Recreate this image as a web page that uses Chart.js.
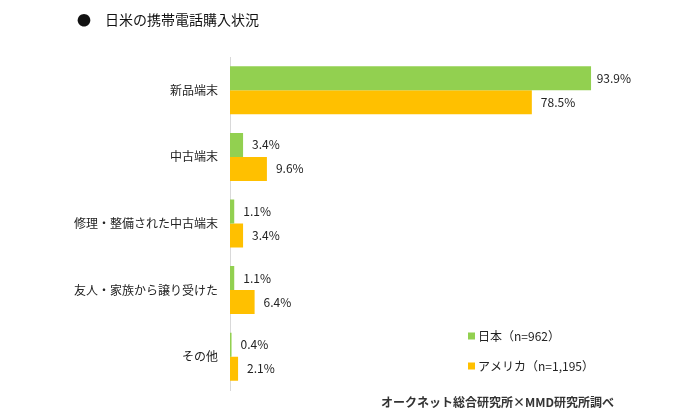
<!DOCTYPE html>
<html>
<head>
<meta charset="utf-8">
<script src="https://cdn.jsdelivr.net/npm/chart.js@4"></script>
<style>
  body { margin: 0; background: #fff; font-family: "Noto Sans CJK JP", sans-serif; }
  #wrap { position: relative; width: 700px; height: 412px; }
  #title { position: absolute; left: 77px; top: 9px; font-size: 14px; color: #111; }
  #title .dot { display: inline-block; width: 28px; }
  #source { position: absolute; left: 381px; top: 393px; font-size: 12px; font-weight: bold; color: #333; }
</style>
</head>
<body>
<div id="wrap">
  <canvas id="chart" width="700" height="412"></canvas>
  <div id="title"><span class="dot">●</span>日米の携帯電話購入状況</div>
  <div id="source">オークネット総合研究所×MMD研究所調べ</div>
</div>
<script>
// Data
const categories = ['新品端末', '中古端末', '修理・整備された中古端末', '友人・家族から譲り受けた', 'その他'];
const japan = [93.9, 3.4, 1.1, 1.1, 0.4];
const usa = [78.5, 9.6, 3.4, 6.4, 2.1];
const seriesLabels = ['日本（n=962）', 'アメリカ（n=1,195）'];

const FONT = '"Noto Sans CJK JP", sans-serif';

// Value labels at bar ends
const valueLabels = {
  id: 'valueLabels',
  afterDatasetsDraw(chart) {
    const ctx = chart.ctx;
    ctx.save();
    ctx.font = '12px ' + FONT;
    ctx.fillStyle = '#222';
    ctx.textBaseline = 'middle';
    chart.data.datasets.forEach((ds, i) => {
      chart.getDatasetMeta(i).data.forEach((bar, j) => {
        const txt = ds.data[j].toFixed(1) + '%';
        const w = ctx.measureText(txt).width;
        const x = Math.min(bar.x + 9, 631 - w);
        ctx.fillText(txt, x, bar.y);
      });
    });
    ctx.restore();
  }
};

// Legend drawn inside the plot
const boxLegend = {
  id: 'boxLegend',
  afterDraw(chart) {
    const ctx = chart.ctx;
    ctx.save();
    ctx.font = '12px ' + FONT;
    ctx.textBaseline = 'middle';
    chart.data.datasets.forEach((ds, i) => {
      const y = 336 + i * 30;
      ctx.fillStyle = ds.backgroundColor;
      ctx.fillRect(468, y - 3.5, 7, 7);
      ctx.fillStyle = '#222';
      ctx.fillText(ds.label, 478, y);
    });
    ctx.restore();
  }
};

new Chart(document.getElementById('chart'), {
  type: 'bar',
  data: {
    labels: categories,
    datasets: [
      { label: seriesLabels[0], data: japan, backgroundColor: '#92d050' },
      { label: seriesLabels[1], data: usa, backgroundColor: '#ffc000' }
    ]
  },
  options: {
    indexAxis: 'y',
    responsive: false,
    animation: false,
    categoryPercentage: 0.72,
    barPercentage: 1,
    layout: { padding: { top: 57, bottom: 22, right: 85.5, left: 0 } },
    scales: {
      x: { display: false, min: 0, max: 100 },
      y: {
        afterFit(scale) { scale.width = 230; },
        grid: { display: false, drawTicks: false },
        border: { display: true, color: '#d9d9d9', width: 1 },
        ticks: { padding: 12, color: '#222', font: { family: FONT, size: 12 } }
      }
    },
    plugins: {
      legend: { display: false },
      tooltip: { enabled: false }
    }
  },
  plugins: [valueLabels, boxLegend]
});
</script>
</body>
</html>
